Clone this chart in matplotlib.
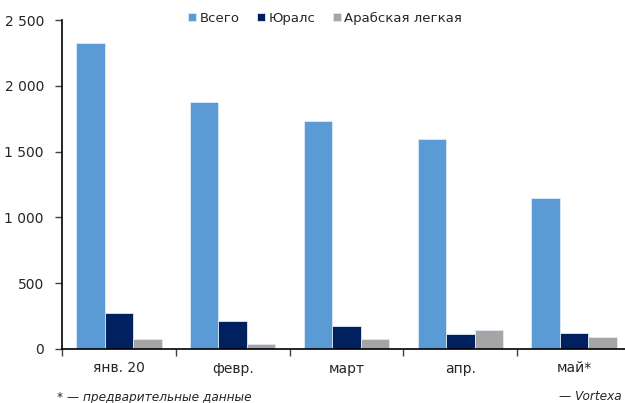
import matplotlib
matplotlib.use("Agg")
import matplotlib.pyplot as plt
import numpy as np

categories = ["янв. 20", "февр.", "март", "апр.", "май*"]
total = [2325, 1877, 1733, 1596, 1147]
urals = [274, 213, 175, 114, 122]
arab_light = [76, 38, 76, 144, 91]
series_names = ["Всего", "Юралс", "Арабская легкая"]
yticks = [0, 500, 1000, 1500, 2000, 2500]
ytick_labels = ["0", "500", "1 000", "1 500", "2 000", "2 500"]

colors = ["#5B9BD5", "#002060", "#A5A5A5"]
plt.rcParams['font.family'] = ['DejaVu Sans']

fig = plt.figure(figsize=(6.25, 4.03), dpi=100)
W, H = 625, 403
ax = fig.add_axes([62 / W, (H - 349) / H, (631 - 62) / W, 329 / H])

x = np.arange(len(categories))
bw = 0.25
for i, (vals, name) in enumerate(zip([total, urals, arab_light], series_names)):
    ax.bar(x + (i - 1) * bw, vals, width=bw, color=colors[i], label=name,
           edgecolor="#DDEBF7", linewidth=0.6)

ax.set_xlim(-0.5, len(categories) - 0.5)
ax.set_ylim(0, 2500)
ax.set_yticks(yticks)
ax.set_yticklabels(ytick_labels)
ax.set_xticks(np.arange(len(categories) + 1) - 0.5)
ax.set_xticklabels([])
ax.set_xticks(x, minor=True)
ax.set_xticklabels(categories, minor=True)
ax.tick_params(axis="x", which="minor", length=0, pad=9, labelsize=10, labelcolor="#262626")
ax.tick_params(axis="x", which="major", length=5, width=1, direction="out", color="#404040")
ax.tick_params(axis="y", length=5, width=1, direction="out", labelsize=10, labelcolor="#262626", pad=8, color="#404040")
for s in ["top", "right"]:
    ax.spines[s].set_visible(False)
ax.spines["left"].set_linewidth(1.2)
ax.spines["bottom"].set_linewidth(1.2)
ax.spines["left"].set_color("#000000")
ax.spines["bottom"].set_color("#000000")

leg = fig.legend(loc="center", bbox_to_anchor=(325 / W, 1 - 18 / H), ncol=3, frameon=False,
                 fontsize=9.5, handlelength=0.6, handleheight=0.6, handletextpad=0.3,
                 columnspacing=1.3, labelcolor="#262626")

fig.text(57 / W, 1 - 397 / H, "* — предварительные данные", fontsize=8.7, style="italic",
         color="#262626", va="center", ha="left")
fig.text(622 / W, 1 - 397 / H, "— Vortexa", fontsize=8.7, style="italic",
         color="#262626", va="center", ha="right")

fig.savefig("out.png", dpi=100)
